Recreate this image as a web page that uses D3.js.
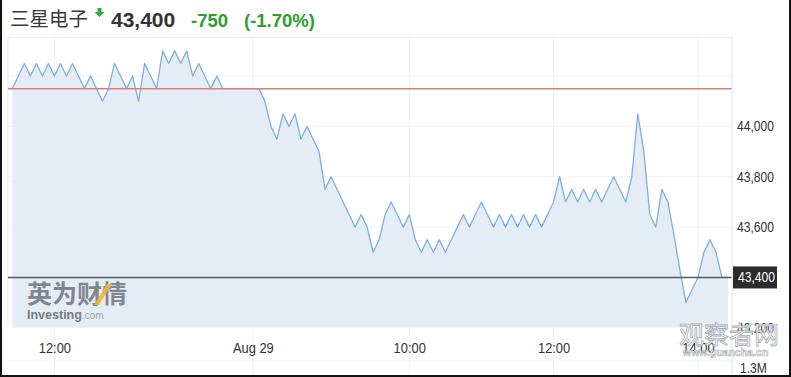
<!DOCTYPE html>
<html><head><meta charset="utf-8">
<script src="https://cdn.jsdelivr.net/npm/d3@7"></script>
<style>body{margin:0;background:#fff;} svg{display:block;}</style>
</head><body>
<svg id="c" width="791" height="377"></svg>
<script>
// ---- data ----
const prices = [
 44150,44200,44250,44200,44250,44200,44250,44200,44250,44200,
 44250,44200,44150,44200,44150,44100,44150,44250,44200,44150,
 44200,44100,44250,44200,44150,44300,44250,44300,44250,44300,
 44200,44250,44200,44150,44200,44150,44150,44150,44150,44150,
 44150,44150,44100,44000,43950,44050,44000,44050,43950,44000,
 43950,43900,43750,43800,43750,43700,43650,43600,43650,43600,
 43500,43550,43650,43700,43650,43600,43650,43550,43500,43550,
 43500,43550,43500,43550,43600,43650,43600,43650,43700,43650,
 43600,43650,43600,43650,43600,43650,43600,43650,43600,43650,
 43700,43800,43700,43750,43700,43750,43700,43750,43700,43750,
 43800,43750,43700,43800,44050,43900,43650,43600,43750,43700,
 43570,43430,43300,43350,43400,43500,43550,43500,43400,43400
];
const prevClose = 44150;
const lastPrice = 43400;
const titleName = "三星电子";
const titlePrice = "43,400";
const titleChange = "-750";
const titleChangePct = "(-1.70%)";
const priceTickValues = [44000, 43800, 43600, 43200];
const priceGridValues = [44200, 44000, 43800, 43600];
const timeTickIdx = [7, 40, 66, 90, 114];
const timeTickLabels = ["12:00", "Aug 29", "10:00", "12:00", "14:00"];
const volumeLabel = "1.3M";

// ---- layout ----
const svg = d3.select("#c");
const plot = {left: 8, right: 732, top: 37.5, bottom: 327.8};
const x = d3.scaleLinear().domain([0, prices.length - 1]).range([12.3, 728]);
const y = d3.scaleLinear().domain([43200, 44000]).range([plot.bottom, 126.4]);
const fmt = d3.format(",");

// grid
const grid = svg.append("g");
grid.selectAll("line.h").data(priceGridValues).join("line")
  .attr("x1", plot.left).attr("x2", plot.right)
  .attr("y1", d => y(d)).attr("y2", d => y(d))
  .attr("stroke", "#f0f2f4").attr("stroke-width", 1);
grid.selectAll("line.v").data(timeTickIdx).join("line")
  .attr("x1", d => x(d)).attr("x2", d => x(d))
  .attr("y1", plot.top).attr("y2", 376)
  .attr("stroke", "#eef1f4").attr("stroke-width", 1);
grid.append("line").attr("x1", plot.left).attr("x2", plot.right)
  .attr("y1", 361).attr("y2", 361).attr("stroke", "#f0f2f4");
// plot frame
grid.append("path")
  .attr("d", `M${plot.left},${plot.bottom}V${plot.top}H${plot.right}`)
  .attr("fill", "none").attr("stroke", "#e9ecef");

// area + line
svg.append("path").datum(prices)
  .attr("d", d3.area().x((d, i) => x(i)).y0(y(43200)).y1(d => y(d)))
  .attr("fill", "#e4edf6");

// Investing watermark
const logo = svg.append("g");
logo.append("text").attr("x", 27).attr("y", 303)
  .attr("font-family", "Noto Sans CJK SC").attr("font-weight", 700)
  .attr("font-size", 25).attr("fill", "#7e8791").text("英为财情");
logo.append("path").attr("d", "M94,305 L99,305 L112,284 L107,284 Z")
  .attr("fill", "#f2b632").attr("opacity", 0.9);
const inv = logo.append("text").attr("x", 27).attr("y", 319)
  .attr("font-family", "Liberation Sans, Arial, sans-serif");
inv.append("tspan").attr("font-weight", 700).attr("font-size", 12.5).attr("fill", "#737b84").text("Investing");
inv.append("tspan").attr("font-size", 10).attr("fill", "#9aa1a9").text(".com");

svg.append("path").datum(prices)
  .attr("d", d3.line().x((d, i) => x(i)).y(d => y(d)))
  .attr("fill", "none").attr("stroke", "#7eb0e0").attr("stroke-width", 1.3)
  .attr("stroke-linejoin", "round");

// reference lines
svg.append("line").attr("x1", plot.left).attr("x2", plot.right)
  .attr("y1", y(prevClose)).attr("y2", y(prevClose))
  .attr("stroke", "#e07b7b").attr("stroke-width", 1.5);
svg.append("line").attr("x1", plot.left).attr("x2", plot.right)
  .attr("y1", y(lastPrice)).attr("y2", y(lastPrice))
  .attr("stroke", "#555a60").attr("stroke-width", 1.5);

// right axis line
svg.append("line").attr("x1", plot.right).attr("x2", plot.right)
  .attr("y1", plot.top).attr("y2", 377).attr("stroke", "#dfe5ec");

// right axis
const yAxis = svg.append("g").attr("transform", `translate(${plot.right},0)`)
  .call(d3.axisRight(y).tickValues(priceTickValues).tickFormat(fmt).tickSize(0).tickPadding(5));
yAxis.select(".domain").remove();
yAxis.selectAll("text")
  .attr("font-family", "Liberation Sans, Arial, sans-serif").attr("font-size", 14)
  .attr("fill", "#333").attr("transform", "scale(0.865,1)").attr("x", 5 / 0.865);

// last price label
const lp = svg.append("g").attr("transform", `translate(${plot.right + 1},${y(lastPrice)})`);
lp.append("rect").attr("x", 0).attr("y", -11).attr("width", 44).attr("height", 22).attr("fill", "#2b2b2b");
lp.append("text").attr("x", 5 / 0.865).attr("dy", "0.36em")
  .attr("transform", "scale(0.865,1)")
  .attr("font-family", "Liberation Sans, Arial, sans-serif").attr("font-size", 14)
  .attr("fill", "#fff").text(fmt(lastPrice));

// volume label
svg.append("text").attr("x", 740 / 0.865).attr("y", 373)
  .attr("transform", "scale(0.865,1)")
  .attr("font-family", "Liberation Sans, Arial, sans-serif").attr("font-size", 14)
  .attr("fill", "#333").text(volumeLabel);

// bottom axis
const xAxis = svg.append("g").attr("transform", "translate(0,342)")
  .call(d3.axisBottom(x).tickValues(timeTickIdx).tickFormat((d, i) => timeTickLabels[i]).tickSize(0).tickPadding(0));
xAxis.select(".domain").remove();
xAxis.selectAll("text")
  .attr("font-family", "Liberation Sans, Arial, sans-serif").attr("font-size", 15)
  .attr("fill", "#333").attr("transform", "scale(0.86,1)");

// title
svg.append("text").attr("x", 10).attr("y", 26)
  .attr("font-family", "Noto Sans CJK SC").attr("font-size", 19.5)
  .attr("fill", "#3a3a3a").text(titleName);
svg.append("path").attr("d", "M97.5,8 H101.5 V12 H104.5 L99.5,17 L94.5,12 H97.5 Z").attr("fill", "#2fae3b");
svg.append("text").attr("x", 111).attr("y", 26.5)
  .attr("font-family", "Liberation Sans, Arial, sans-serif").attr("font-weight", 700)
  .attr("font-size", 21).attr("fill", "#333").text(titlePrice);
svg.append("text").attr("x", 191).attr("y", 26.5)
  .attr("font-family", "Liberation Sans, Arial, sans-serif").attr("font-weight", 700)
  .attr("font-size", 18.5).attr("fill", "#2e9e2a").text(titleChange);
svg.append("text").attr("x", 244).attr("y", 26.5)
  .attr("font-family", "Liberation Sans, Arial, sans-serif").attr("font-weight", 700)
  .attr("font-size", 18.5).attr("fill", "#2e9e2a").text(titleChangePct);

// guancha watermark
svg.append("text").attr("x", 679).attr("y", 344)
  .attr("font-family", "Noto Sans CJK SC").attr("font-size", 25)
  .attr("fill", "rgba(255,255,255,0.85)").attr("stroke", "#a9adb2").attr("stroke-width", 0.8)
  .text("观察者网");
svg.append("text").attr("x", 683).attr("y", 356)
  .attr("font-family", "Liberation Sans, Arial, sans-serif").attr("font-weight", 700).attr("font-size", 10.5)
  .attr("fill", "rgba(255,255,255,0.9)").attr("stroke", "#a9adb2").attr("stroke-width", 0.6)
  .text("www.guancha.cn");

// outer frame
svg.append("path").attr("d", "M1,0 V376 H790 V0").attr("fill", "none")
  .attr("stroke", "#111").attr("stroke-width", 2);
</script>
</body></html>
